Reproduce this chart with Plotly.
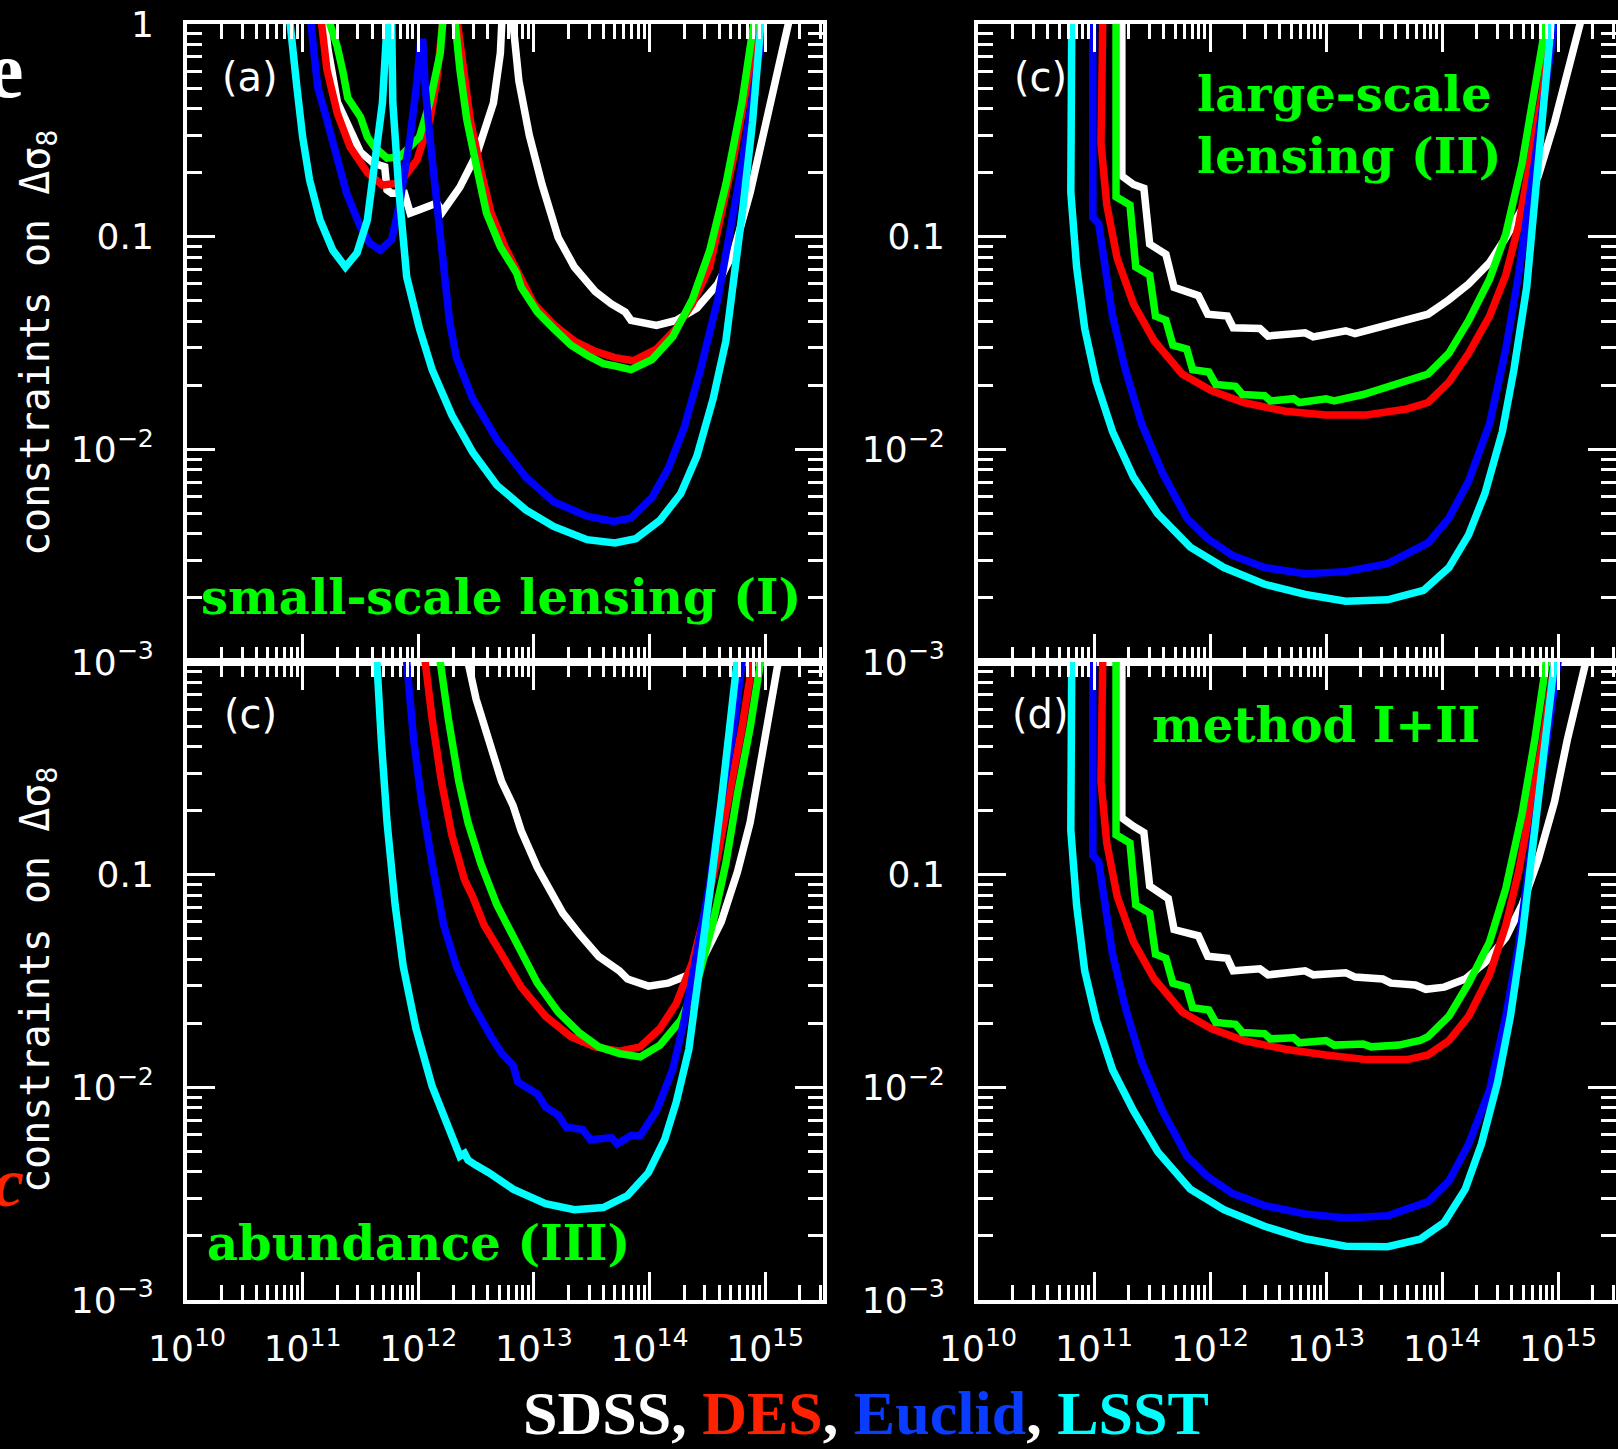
import plotly.graph_objects as go

# ---------------- data (log10 halo mass, constraint on delta sigma_8) ----------------
# panel (a): small-scale lensing (I)
a_sdss_logM = [11.17, 11.22, 11.30, 11.41, 11.50, 11.61, 11.71, 11.73, 11.77, 11.88, 11.93, 12.01, 12.16, 12.21, 12.36, 12.51, 12.65, 12.71, 12.74, 12.80, 12.82, 12.87, 12.96, 13.07, 13.21, 13.35, 13.53, 13.67, 13.79, 13.84, 14.06, 14.23, 14.41, 14.59, 14.73, 14.87, 15.01, 15.11, 15.20, 15.23]
a_sdss_val = [1.3, 0.755, 0.43, 0.32, 0.25, 0.222, 0.213, 0.166, 0.16, 0.16, 0.129, 0.134, 0.144, 0.131, 0.171, 0.248, 0.426, 0.73, 1.6, 1.6, 1.0, 0.54, 0.30, 0.176, 0.099, 0.072, 0.0552, 0.0483, 0.0442, 0.0404, 0.0383, 0.0404, 0.0462, 0.060, 0.086, 0.161, 0.344, 0.615, 1.0, 1.3]
a_des_logM = [11.14, 11.21, 11.30, 11.41, 11.56, 11.69, 11.84, 11.99, 12.10, 12.16, 12.21, 12.24, 12.34, 12.39, 12.45, 12.54, 12.63, 12.75, 12.88, 13.00, 13.17, 13.35, 13.53, 13.70, 13.86, 14.06, 14.23, 14.37, 14.52, 14.62, 14.73, 14.83, 14.94, 14.97]
a_des_val = [1.3, 0.61, 0.38, 0.264, 0.20, 0.175, 0.179, 0.23, 0.354, 0.546, 1.0, 1.6, 1.0, 0.61, 0.354, 0.206, 0.129, 0.0895, 0.065, 0.0483, 0.0386, 0.0323, 0.0289, 0.027, 0.0261, 0.0296, 0.037, 0.0483, 0.072, 0.123, 0.24, 0.47, 1.0, 1.3]
a_green_logM = [11.17, 11.30, 11.35, 11.39, 11.50, 11.56, 11.62, 11.73, 11.84, 12.01, 12.10, 12.19, 12.21, 12.24, 12.30, 12.32, 12.36, 12.42, 12.51, 12.59, 12.71, 12.85, 12.89, 13.03, 13.17, 13.32, 13.46, 13.60, 13.70, 13.84, 14.02, 14.20, 14.37, 14.52, 14.66, 14.80, 14.90, 14.93]
a_green_val = [1.3, 0.78, 0.59, 0.45, 0.366, 0.294, 0.264, 0.234, 0.237, 0.294, 0.43, 0.73, 1.0, 1.6, 1.6, 1.0, 0.61, 0.354, 0.206, 0.129, 0.0895, 0.0675, 0.0578, 0.0442, 0.037, 0.0309, 0.0277, 0.0253, 0.0247, 0.0237, 0.0264, 0.0338, 0.0506, 0.086, 0.176, 0.43, 1.0, 1.3]
a_euclid_logM = [11.05, 11.13, 11.21, 11.30, 11.38, 11.50, 11.58, 11.67, 11.77, 11.84, 11.93, 11.99, 12.02, 12.04, 12.06, 12.10, 12.16, 12.21, 12.27, 12.33, 12.47, 12.68, 12.93, 13.17, 13.46, 13.69, 13.84, 14.02, 14.16, 14.30, 14.44, 14.59, 14.69, 14.80, 14.90, 14.99, 15.02]
a_euclid_val = [1.3, 0.506, 0.354, 0.23, 0.160, 0.111, 0.0933, 0.0865, 0.0966, 0.144, 0.294, 0.546, 0.82, 0.82, 0.506, 0.294, 0.144, 0.0697, 0.040, 0.027, 0.0173, 0.0111, 0.0074, 0.00567, 0.00485, 0.00458, 0.00475, 0.00593, 0.0081, 0.0127, 0.0237, 0.0506, 0.099, 0.220, 0.492, 1.0, 1.3]
a_lsst_logM = [10.87, 10.89, 10.95, 11.00, 11.06, 11.15, 11.26, 11.37, 11.47, 11.56, 11.62, 11.69, 11.73, 11.75, 11.77, 11.78, 11.83, 11.87, 11.90, 12.01, 12.12, 12.29, 12.47, 12.68, 12.93, 13.17, 13.46, 13.70, 13.88, 14.09, 14.27, 14.41, 14.55, 14.66, 14.74, 14.81, 14.89, 14.96, 14.98]
a_lsst_val = [1.3, 1.0, 0.506, 0.294, 0.185, 0.12, 0.0865, 0.072, 0.0838, 0.12, 0.206, 0.426, 1.0, 1.6, 1.0, 0.426, 0.171, 0.0838, 0.0646, 0.037, 0.0237, 0.0145, 0.0097, 0.00678, 0.00519, 0.00434, 0.00376, 0.00363, 0.0038, 0.00464, 0.0062, 0.0093, 0.0173, 0.0323, 0.066, 0.141, 0.344, 1.0, 1.3]

# panel (b): large-scale lensing (II)
b_sdss_logM = [11.24, 11.24, 11.34, 11.43, 11.48, 11.62, 11.69, 11.90, 11.98, 12.15, 12.20, 12.43, 12.50, 12.82, 12.89, 13.17, 13.25, 13.53, 13.88, 14.06, 14.23, 14.41, 14.55, 14.69, 14.83, 14.97, 15.08, 15.19, 15.22]
b_sdss_val = [1.5, 0.193, 0.176, 0.169, 0.0923, 0.0826, 0.0578, 0.0528, 0.0432, 0.0423, 0.0373, 0.037, 0.0341, 0.0353, 0.0338, 0.0361, 0.035, 0.0386, 0.0432, 0.0505, 0.060, 0.0755, 0.099, 0.135, 0.193, 0.344, 0.585, 1.0, 1.3]
b_des_logM = [11.08, 11.07, 11.06, 11.11, 11.20, 11.34, 11.52, 11.76, 12.01, 12.29, 12.65, 13.00, 13.35, 13.70, 13.88, 14.06, 14.23, 14.41, 14.55, 14.66, 14.76, 14.87, 14.94, 14.96]
b_des_val = [1.5, 0.5, 0.275, 0.141, 0.0789, 0.0483, 0.0323, 0.0226, 0.0189, 0.0166, 0.0151, 0.0145, 0.0145, 0.0155, 0.0166, 0.0207, 0.0283, 0.0423, 0.066, 0.113, 0.22, 0.492, 1.0, 1.3]
b_green_logM = [11.19, 11.19, 11.31, 11.36, 11.48, 11.53, 11.62, 11.68, 11.80, 11.85, 11.99, 12.05, 12.22, 12.28, 12.47, 12.52, 12.72, 12.77, 13.00, 13.07, 13.32, 13.53, 13.88, 14.06, 14.23, 14.41, 14.55, 14.69, 14.80, 14.90, 14.93]
b_green_val = [1.5, 0.154, 0.141, 0.072, 0.066, 0.0423, 0.0404, 0.0309, 0.0296, 0.0237, 0.0231, 0.0202, 0.0198, 0.0181, 0.0179, 0.0169, 0.0173, 0.0166, 0.0173, 0.0169, 0.0181, 0.0198, 0.0226, 0.0283, 0.0404, 0.0631, 0.103, 0.22, 0.47, 1.0, 1.3]
b_euclid_logM = [10.99, 10.99, 11.04, 11.09, 11.16, 11.27, 11.41, 11.59, 11.80, 11.98, 12.19, 12.47, 12.82, 13.17, 13.53, 13.88, 14.06, 14.23, 14.41, 14.55, 14.66, 14.76, 14.87, 14.97, 15.00]
b_euclid_val = [1.5, 0.123, 0.115, 0.072, 0.0423, 0.0237, 0.0132, 0.00776, 0.00475, 0.0038, 0.00318, 0.00278, 0.0026, 0.00266, 0.0029, 0.00363, 0.00475, 0.0071, 0.0132, 0.0296, 0.066, 0.161, 0.394, 1.0, 1.3]
b_lsst_logM = [10.81, 10.80, 10.85, 10.92, 11.02, 11.16, 11.34, 11.55, 11.83, 12.12, 12.47, 12.82, 13.17, 13.53, 13.84, 14.06, 14.23, 14.37, 14.52, 14.62, 14.73, 14.80, 14.87, 14.94, 14.96]
b_lsst_val = [1.5, 0.162, 0.072, 0.037, 0.0207, 0.0121, 0.0074, 0.00497, 0.00347, 0.00278, 0.00232, 0.00208, 0.00193, 0.00196, 0.00217, 0.00278, 0.00397, 0.0062, 0.0121, 0.0237, 0.0578, 0.141, 0.344, 1.0, 1.3]

# panel (c): abundance (III)
c_sdss_logM = [12.42, 12.43, 12.50, 12.61, 12.72, 12.82, 12.89, 13.03, 13.14, 13.25, 13.39, 13.49, 13.56, 13.74, 13.81, 13.99, 14.16, 14.34, 14.48, 14.62, 14.76, 14.87, 14.97, 15.06, 15.13, 15.15]
c_sdss_val = [1.3, 1.0, 0.67, 0.43, 0.275, 0.211, 0.161, 0.108, 0.0826, 0.066, 0.0528, 0.0462, 0.0413, 0.0353, 0.0323, 0.0299, 0.0309, 0.0338, 0.0423, 0.060, 0.103, 0.176, 0.344, 0.615, 1.0, 1.3]
c_des_logM = [12.05, 12.06, 12.12, 12.20, 12.29, 12.40, 12.47, 12.57, 12.72, 12.89, 13.10, 13.32, 13.53, 13.74, 13.92, 14.09, 14.23, 14.37, 14.48, 14.59, 14.69, 14.80, 14.89, 14.91]
c_des_val = [1.3, 1.0, 0.54, 0.275, 0.154, 0.0944, 0.0789, 0.0578, 0.0423, 0.0296, 0.0216, 0.0173, 0.0155, 0.0148, 0.0155, 0.0189, 0.0247, 0.0386, 0.066, 0.123, 0.24, 0.492, 1.0, 1.3]
c_green_logM = [12.18, 12.19, 12.26, 12.35, 12.43, 12.54, 12.68, 12.86, 13.03, 13.21, 13.39, 13.56, 13.74, 13.92, 14.09, 14.27, 14.41, 14.55, 14.66, 14.76, 14.87, 14.96, 14.98]
c_green_val = [1.3, 1.0, 0.54, 0.275, 0.176, 0.113, 0.072, 0.0462, 0.0309, 0.0226, 0.0181, 0.0155, 0.0144, 0.0139, 0.0158, 0.0207, 0.0309, 0.060, 0.113, 0.24, 0.492, 1.0, 1.3]
c_euclid_logM = [11.89, 11.90, 11.96, 12.03, 12.12, 12.22, 12.33, 12.47, 12.63, 12.72, 12.82, 12.86, 13.03, 13.10, 13.21, 13.28, 13.42, 13.49, 13.67, 13.72, 13.84, 13.92, 14.06, 14.20, 14.30, 14.41, 14.52, 14.62, 14.73, 14.80, 14.82]
c_euclid_val = [1.3, 1.0, 0.43, 0.22, 0.113, 0.0578, 0.037, 0.0247, 0.0173, 0.0145, 0.0127, 0.0106, 0.0093, 0.0081, 0.0074, 0.00649, 0.00634, 0.00567, 0.0058, 0.00542, 0.00593, 0.00593, 0.00776, 0.0121, 0.0207, 0.0423, 0.0902, 0.22, 0.492, 1.0, 1.3]
c_lsst_logM = [11.63, 11.64, 11.68, 11.73, 11.80, 11.87, 11.98, 12.12, 12.26, 12.36, 12.40, 12.43, 12.50, 12.61, 12.82, 13.10, 13.35, 13.60, 13.81, 13.99, 14.13, 14.23, 14.34, 14.44, 14.53, 14.62, 14.69, 14.76, 14.78]
c_lsst_val = [1.3, 1.0, 0.43, 0.176, 0.072, 0.037, 0.0189, 0.0101, 0.00649, 0.00475, 0.0049, 0.00455, 0.0043, 0.00397, 0.00332, 0.00284, 0.00266, 0.00272, 0.0031, 0.00397, 0.00567, 0.00848, 0.0151, 0.037, 0.0902, 0.22, 0.47, 1.0, 1.3]

# panel (d): method I+II
d_sdss_logM = [11.24, 11.24, 11.34, 11.43, 11.48, 11.64, 11.69, 11.90, 11.98, 12.15, 12.20, 12.43, 12.50, 12.82, 12.89, 13.17, 13.25, 13.49, 13.56, 13.77, 13.86, 14.02, 14.20, 14.37, 14.55, 14.69, 14.83, 14.97, 15.08, 15.19, 15.24, 15.26]
d_sdss_val = [1.5, 0.185, 0.169, 0.158, 0.0883, 0.0772, 0.0552, 0.0516, 0.0413, 0.0404, 0.0353, 0.0361, 0.0338, 0.0353, 0.0338, 0.0346, 0.033, 0.0323, 0.0309, 0.0303, 0.0289, 0.0296, 0.0323, 0.0386, 0.0506, 0.072, 0.118, 0.22, 0.43, 0.80, 1.0, 1.3]
d_des_logM = [11.08, 11.07, 11.06, 11.11, 11.20, 11.34, 11.52, 11.76, 12.01, 12.29, 12.65, 13.00, 13.35, 13.70, 13.88, 14.06, 14.23, 14.41, 14.55, 14.66, 14.76, 14.87, 14.97, 14.99]
d_des_val = [1.5, 0.5, 0.275, 0.141, 0.0789, 0.0483, 0.0323, 0.0226, 0.0189, 0.0166, 0.0151, 0.0142, 0.0135, 0.0135, 0.0142, 0.0166, 0.0216, 0.0338, 0.0578, 0.103, 0.201, 0.43, 1.0, 1.3]
d_green_logM = [11.19, 11.19, 11.31, 11.36, 11.48, 11.53, 11.62, 11.68, 11.80, 11.85, 11.99, 12.05, 12.22, 12.28, 12.47, 12.52, 12.72, 12.77, 13.00, 13.07, 13.32, 13.39, 13.63, 13.81, 13.88, 14.06, 14.23, 14.41, 14.55, 14.69, 14.80, 14.90, 14.93]
d_green_val = [1.5, 0.154, 0.141, 0.072, 0.066, 0.0423, 0.0404, 0.0309, 0.0296, 0.0237, 0.0231, 0.0202, 0.0198, 0.0181, 0.0179, 0.0169, 0.0171, 0.0162, 0.0166, 0.0158, 0.016, 0.0155, 0.0158, 0.0166, 0.0173, 0.0216, 0.0309, 0.0483, 0.086, 0.193, 0.43, 1.0, 1.3]
d_euclid_logM = [10.99, 10.99, 11.04, 11.09, 11.16, 11.27, 11.41, 11.59, 11.80, 11.98, 12.19, 12.47, 12.82, 13.17, 13.53, 13.88, 14.06, 14.23, 14.41, 14.55, 14.66, 14.76, 14.87, 15.01, 15.03]
d_euclid_val = [1.5, 0.123, 0.115, 0.072, 0.0423, 0.0237, 0.0132, 0.00776, 0.00475, 0.0038, 0.00318, 0.00278, 0.00254, 0.00243, 0.00249, 0.0029, 0.00363, 0.00542, 0.0097, 0.0216, 0.0462, 0.123, 0.329, 1.0, 1.3]
d_lsst_logM = [10.81, 10.80, 10.85, 10.92, 11.02, 11.16, 11.34, 11.55, 11.83, 12.12, 12.47, 12.82, 13.17, 13.53, 13.81, 14.02, 14.20, 14.34, 14.48, 14.59, 14.69, 14.78, 14.87, 14.97, 14.99]
d_lsst_val = [1.5, 0.162, 0.072, 0.0353, 0.0207, 0.0121, 0.00776, 0.00497, 0.00332, 0.00266, 0.00222, 0.00194, 0.00179, 0.00178, 0.00193, 0.00232, 0.00332, 0.00542, 0.0106, 0.0216, 0.0506, 0.123, 0.344, 1.0, 1.3]

# tick labels
x_tick_exponents = [10, 11, 12, 13, 14, 15]
y_tick_values = [1e-3, 1e-2, 1e-1, 1.0]
y_tick_text_top_left = ["10<sup>\u22123</sup>", "10<sup>\u22122</sup>", "0.1", "1"]
y_tick_text_other = ["10<sup>\u22123</sup>", "10<sup>\u22122</sup>", "0.1", " "]

panel_labels = ["(a)", "(c)", "(c)", "(d)"]
method_labels = ["small-scale lensing (I)", "large-scale<br>lensing (II)", "abundance (III)", "method I+II"]
survey_names = ["SDSS", "DES", "Euclid", "LSST"]

# ---------------- styling ----------------
W, H = 1618, 1449
COL = {"sdss": "#ffffff", "des": "#ff0000", "green": "#00ff00", "euclid": "#0000ff", "lsst": "#00ffff"}
LW = 7.5

def px(x):
    return x / W

def py(y):
    return 1 - y / H

left_dom = [px(187), px(823)]
right_dom = [px(978), px(1616)]
top_dom = [py(662), py(24)]
bot_dom = [py(1300), py(662)]

panels = [
    ("", left_dom, top_dom, "a"),
    ("2", right_dom, top_dom, "b"),
    ("3", left_dom, bot_dom, "c"),
    ("4", right_dom, bot_dom, "d"),
]

data = {
    "a": [(a_sdss_logM, a_sdss_val, "sdss"), (a_des_logM, a_des_val, "des"), (a_green_logM, a_green_val, "green"),
          (a_euclid_logM, a_euclid_val, "euclid"), (a_lsst_logM, a_lsst_val, "lsst")],
    "b": [(b_sdss_logM, b_sdss_val, "sdss"), (b_des_logM, b_des_val, "des"), (b_green_logM, b_green_val, "green"),
          (b_euclid_logM, b_euclid_val, "euclid"), (b_lsst_logM, b_lsst_val, "lsst")],
    "c": [(c_sdss_logM, c_sdss_val, "sdss"), (c_des_logM, c_des_val, "des"), (c_green_logM, c_green_val, "green"),
          (c_euclid_logM, c_euclid_val, "euclid"), (c_lsst_logM, c_lsst_val, "lsst")],
    "d": [(d_sdss_logM, d_sdss_val, "sdss"), (d_des_logM, d_des_val, "des"), (d_green_logM, d_green_val, "green"),
          (d_euclid_logM, d_euclid_val, "euclid"), (d_lsst_logM, d_lsst_val, "lsst")],
}

fig = go.Figure()

for suf, xd, yd, key in panels:
    for logM, val, c in data[key]:
        fig.add_trace(go.Scatter(
            x=[10 ** v for v in logM], y=val, mode="lines",
            line=dict(color=COL[c], width=LW),
            xaxis="x" + suf, yaxis="y" + suf,
            showlegend=False, hoverinfo="skip"))

x_major = [10.0 ** e for e in x_tick_exponents]
x_minor = [m * 10.0 ** e for e in range(10, 16) for m in range(2, 10) if m * 10.0 ** e < 10 ** 15.5]
y_minor = [m * 10.0 ** e for e in range(-3, 0) for m in range(2, 10)]
x_text = ["10<sup>%d</sup>" % e for e in x_tick_exponents]

tickfont = dict(family="DejaVu Sans", size=36, color="white")

layout = dict(
    width=W, height=H, autosize=False,
    margin=dict(l=0, r=0, t=0, b=0, pad=0, autoexpand=False),
    paper_bgcolor="black", plot_bgcolor="black",
    showlegend=False,
)

for suf, xd, yd, key in panels:
    bottom = key in ("c", "d")
    layout["xaxis" + suf] = dict(
        type="log", range=[10, 15.5], domain=xd, anchor="y" + suf, automargin=False,
        showgrid=False, zeroline=False, showline=True, linecolor="white", linewidth=4,
        mirror="ticks", ticks="inside", ticklen=28, tickwidth=3, tickcolor="white",
        tickmode="array", tickvals=x_major, ticktext=x_text,
        showticklabels=bottom, tickfont=tickfont, ticklabelstandoff=14,
        minor=dict(tickmode="array", tickvals=x_minor, ticks="inside", ticklen=15,
                   tickwidth=3, tickcolor="white"),
    )
    layout["yaxis" + suf] = dict(
        type="log", range=[-3, 0], domain=yd, anchor="x" + suf, automargin=False,
        showgrid=False, zeroline=False, showline=True, linecolor="white", linewidth=4,
        mirror="ticks", ticks="inside", ticklen=28, tickwidth=3, tickcolor="white",
        tickmode="array", tickvals=y_tick_values,
        ticktext=y_tick_text_top_left if key == "a" else y_tick_text_other,
        tickfont=tickfont, ticklabelstandoff=22,
        minor=dict(tickmode="array", tickvals=y_minor, ticks="inside", ticklen=15,
                   tickwidth=3, tickcolor="white"),
    )

fig.update_layout(**layout)

ann = []
# panel labels
for lab, (xc, yc) in zip(panel_labels, [(250, 77), (1040, 77), (250, 714), (1040, 714)]):
    ann.append(dict(text=lab, x=px(xc), y=py(yc), xref="paper", yref="paper", showarrow=False,
                    xanchor="center", yanchor="middle",
                    font=dict(family="DejaVu Sans", size=40, color="white")))
# method labels (green)
for lab, (xc, yc) in zip(method_labels, [(501, 597), (1349, 125), (418, 1243), (1316, 725)]):
    ann.append(dict(text="<b>%s</b>" % lab, x=px(xc), y=py(yc), xref="paper", yref="paper",
                    showarrow=False, xanchor="center", yanchor="middle", align="left",
                    font=dict(family="DejaVu Serif", size=48, color="#00ff00")))
# y-axis titles
for yc in (343, 980):
    ann.append(dict(text="constraints on \u0394\u03c3<sub>8</sub>", x=px(38), y=py(yc),
                    xref="paper", yref="paper", showarrow=False, textangle=-90,
                    xanchor="center", yanchor="middle",
                    font=dict(family="DejaVu Sans Mono", size=40, color="white")))
# survey legend line
leg_cols = ["#ffffff", "#ff2200", "#0a3cff", "#00ffff"]
leg = ", ".join("<span style='color:%s'>%s</span>" % (c, n) for c, n in zip(leg_cols, survey_names))
ann.append(dict(text="<b>%s</b>" % leg, x=px(866), y=py(1449), xref="paper", yref="paper",
                showarrow=False, xanchor="center", yanchor="bottom",
                font=dict(family="Liberation Serif", size=62, color="white")))
# clipped letters at the left edge
ann.append(dict(text="<b>e</b>", x=px(26), y=py(70), xref="paper", yref="paper", showarrow=False,
                xanchor="right", yanchor="middle",
                font=dict(family="Liberation Serif", size=80, color="white")))
ann.append(dict(text="<b><i>c</i></b>", x=px(26), y=py(1182), xref="paper", yref="paper", showarrow=False,
                xanchor="right", yanchor="middle",
                font=dict(family="Liberation Serif", size=70, color="#ff2200")))

fig.update_layout(annotations=ann)

fig.write_html("out.html", config={"responsive": False, "displayModeBar": False},
               post_script="document.body.style.margin='0';document.body.style.background='black';")
